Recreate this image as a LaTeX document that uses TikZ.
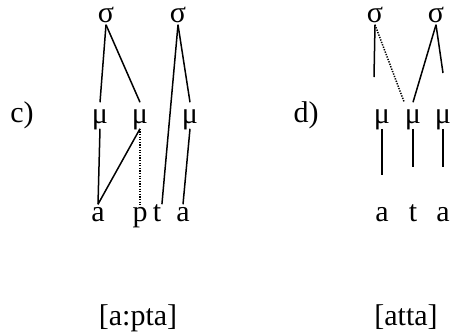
\documentclass[tikz,border=0pt]{standalone}
\usepackage{fontspec}
\setmainfont{Liberation Serif}
\usetikzlibrary{positioning}
\begin{document}
\begin{tikzpicture}[x=1pt, y=-1pt, line width=1.5pt,
    every node/.style={font=\fontsize{30}{36}\selectfont, inner sep=0pt, anchor=base},
    syl/.style={text depth=2pt},
    mora/.style={text height=20pt, text depth=5pt},
    seg/.style={text height=16pt, text depth=0pt},
    assoc/.style={dash pattern=on 1.3pt off 1.3pt}]
    \useasboundingbox (0,0) rectangle (452,333);

    %c) [a:pta]
    \node (lc) at (22,122) {c)};
    \node[syl] (s1) at (106,22) {σ};
    \node[syl] (s2) at (178,22) {σ};
    \node[mora] (m1) at (100,123) {μ};
    \node[mora] (m2) at (140,123) {μ};
    \node[mora] (m3) at (190,123) {μ};
    \node[seg] (a1) at (98,221) {a};
    \node[seg] (p1) at (140,221) {p};
    \node[seg] (t1) at (157,221) {t};
    \node[seg] (a2) at (183,221) {a};
    \draw (s1.south) -- (m1.north);
    \draw (s1.south) -- (m2.north);
    \draw (s2.south) -- (t1.north east);
    \draw (s2.south) -- (m3.north);
    \draw (m1.south) -- (a1.north);
    \draw (m2.south) -- (a1.north);
    \draw[assoc] (m2.south) -- (p1.north);
    \draw (m3.south) -- (a2.north);
    \node (f1) at (138,325) {[a:pta]};

    %d) [atta]
    \node (ld) at (306,122) {d)};
    \node[syl] (s3) at (375,22) {σ};
    \node[syl] (s4) at (436,22) {σ};
    \node[mora] (m4) at (382,123) {μ};
    \node[mora] (m5) at (413,123) {μ};
    \node[mora] (m6) at (443,123) {μ};
    \node[seg] (a3) at (382,221) {a};
    \node[seg] (t2) at (413,221) {t};
    \node[seg] (a4) at (443,221) {a};
    \coordinate (e1) at (374,77);
    \coordinate (e2) at (443,73);
    \coordinate (e3) at (382,175);
    \coordinate (e4) at (413,167);
    \coordinate (e5) at (443,167);
    \draw (s3.south) -- (e1);
    \draw[assoc] (s3.south) -- (m5.north west);
    \draw (s4.south) -- (m5.north);
    \draw (s4.south) -- (e2);
    \draw (m4.south) -- (e3);
    \draw (m5.south) -- (e4);
    \draw (m6.south) -- (e5);
    \node (f2) at (406,325) {[atta]};
\end{tikzpicture}
\end{document}
